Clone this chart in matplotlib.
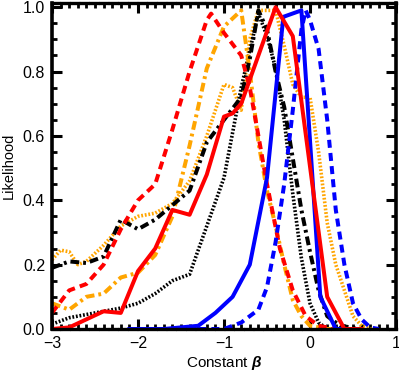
import matplotlib
matplotlib.use("Agg")
import matplotlib.pyplot as plt
from matplotlib.ticker import MultipleLocator

# ---- data ----
red_dash_x = [-3.0, -2.8, -2.6, -2.4, -2.2, -2.0, -1.8, -1.6, -1.4, -1.2, -1.15, -1.0, -0.8, -0.7, -0.6, -0.5, -0.35, -0.2, -0.05, 0.1, 0.3, 0.6]
red_dash_y = [0.05, 0.12, 0.14, 0.20, 0.31, 0.40, 0.45, 0.62, 0.80, 0.96, 0.98, 0.92, 0.85, 0.75, 0.60, 0.45, 0.25, 0.12, 0.04, 0.01, 0.0, 0.0]

orange_dd_x = [-3.0, -2.8, -2.6, -2.4, -2.2, -2.0, -1.8, -1.6, -1.4, -1.2, -1.0, -0.8, -0.7, -0.6, -0.5, -0.4, -0.3, -0.2, -0.1, 0.0, 0.2, 0.6]
orange_dd_y = [0.08, 0.06, 0.10, 0.11, 0.16, 0.175, 0.23, 0.35, 0.57, 0.81, 0.94, 0.99, 0.80, 0.58, 0.43, 0.32, 0.20, 0.09, 0.04, 0.01, 0.0, 0.0]

orange_dot_x = [-3.0, -2.9, -2.8, -2.7, -2.6, -2.4, -2.2, -2.0, -1.8, -1.6, -1.4, -1.2, -1.0, -0.9, -0.8, -0.7, -0.6, -0.4, -0.3, -0.2, -0.1, 0.0, 0.1, 0.2, 0.3, 0.4, 0.5, 0.6, 0.7, 0.8]
orange_dot_y = [0.215, 0.245, 0.24, 0.20, 0.21, 0.26, 0.32, 0.35, 0.36, 0.39, 0.46, 0.60, 0.76, 0.75, 0.68, 0.90, 0.99, 0.99, 0.88, 0.76, 0.72, 0.72, 0.55, 0.33, 0.20, 0.12, 0.04, 0.01, 0.0, 0.0]

black_dd_x = [-3.0, -2.8, -2.6, -2.4, -2.2, -2.0, -1.8, -1.6, -1.4, -1.2, -1.0, -0.8, -0.7, -0.6, -0.5, -0.4, -0.3, -0.2, -0.1, 0.0, 0.1, 0.2, 0.35, 0.6]
black_dd_y = [0.19, 0.21, 0.205, 0.225, 0.34, 0.31, 0.34, 0.385, 0.43, 0.58, 0.65, 0.72, 0.84, 0.99, 0.93, 0.80, 0.69, 0.53, 0.37, 0.24, 0.12, 0.04, 0.01, 0.0]

black_dot_x = [-3.0, -2.8, -2.6, -2.4, -2.2, -2.0, -1.8, -1.6, -1.4, -1.2, -1.0, -0.8, -0.6, -0.5, -0.4, -0.3, -0.2, -0.1, 0.0, 0.1, 0.2, 0.4]
black_dot_y = [0.015, 0.035, 0.045, 0.055, 0.065, 0.08, 0.11, 0.15, 0.17, 0.32, 0.47, 0.75, 0.98, 0.91, 0.81, 0.65, 0.42, 0.22, 0.08, 0.02, 0.0, 0.0]

red_solid_x = [-3.0, -2.8, -2.6, -2.4, -2.2, -2.0, -1.8, -1.6, -1.4, -1.2, -1.0, -0.9, -0.8, -0.4, -0.2, 0.2, 0.4, 0.6]
red_solid_y = [0.0, 0.005, 0.03, 0.055, 0.05, 0.18, 0.25, 0.37, 0.355, 0.48, 0.66, 0.67, 0.70, 1.0, 0.91, 0.10, 0.0, 0.0]

blue_solid_x = [-2.1, -1.7, -1.3, -1.1, -0.9, -0.7, -0.5, -0.31, -0.1, 0.12, 0.3, 0.5]
blue_solid_y = [0.0, 0.0, 0.01, 0.05, 0.10, 0.20, 0.47, 0.97, 0.99, 0.10, 0.0, 0.0]

blue_dash_x = [-1.3, -1.0, -0.8, -0.6, -0.5, -0.4, -0.3, -0.2, -0.1, -0.05, 0.0, 0.1, 0.2, 0.3, 0.4, 0.5, 0.6, 0.7, 0.8]
blue_dash_y = [0.0, 0.0, 0.02, 0.06, 0.13, 0.27, 0.45, 0.68, 0.93, 0.99, 0.96, 0.87, 0.65, 0.37, 0.20, 0.08, 0.03, 0.005, 0.0]

x_ticks = [-3, -2, -1, 0, 1]
x_labels = ["\u22123", "\u22122", "\u22121", "0", "1"]
y_ticks = [0.0, 0.2, 0.4, 0.6, 0.8, 1.0]
y_labels = ["0.0", "0.2", "0.4", "0.6", "0.8", "1.0"]

plt.rcParams['font.family'] = ['Liberation Sans', 'DejaVu Sans']
plt.rcParams['mathtext.fontset'] = 'custom'
plt.rcParams['mathtext.bf'] = 'Liberation Sans:bold:italic'

fig = plt.figure(figsize=(3.99, 3.71), dpi=100)
ax = fig.add_axes([52/399, 1 - 329/371, 344/399, 326/371])

px = 0.72  # one pixel in points
lw = 4 * px
orange = '#FFA500'

dot_lw = 3.6 * px
ax.plot(orange_dot_x, orange_dot_y, color=orange, lw=dot_lw, linestyle=(0, (0.5, 0.5)), dash_capstyle='butt')
ax.plot(black_dot_x, black_dot_y, color='black', lw=dot_lw, linestyle=(0, (0.5, 0.5)), dash_capstyle='butt')
ax.plot(orange_dd_x, orange_dd_y, color=orange, lw=lw, linestyle=(0, (2.2, 1.0, 0.7, 1.0)), dash_capstyle='butt')
ax.plot(black_dd_x, black_dd_y, color='black', lw=lw, linestyle=(0, (2.2, 1.0, 0.7, 1.0)), dash_capstyle='butt')
ax.plot(red_dash_x, red_dash_y, color='red', lw=lw, linestyle=(0, (2.0, 1.3)), dash_capstyle='butt')
ax.plot(blue_dash_x, blue_dash_y, color='blue', lw=lw, linestyle=(0, (2.0, 1.3)), dash_capstyle='butt')
ax.plot(blue_solid_x, blue_solid_y, color='blue', lw=lw)
ax.plot(red_solid_x, red_solid_y, color='red', lw=lw)

ax.set_xlim(-3, 1)
ax.set_ylim(0, 1.013)
ax.set_xticks(x_ticks)
ax.set_xticklabels(x_labels)
ax.set_yticks(y_ticks)
ax.set_yticklabels(y_labels)
ax.xaxis.set_minor_locator(MultipleLocator(0.1))
ax.yaxis.set_minor_locator(MultipleLocator(0.05))
ax.tick_params(which='both', direction='in', top=True, right=True, labelsize=11.5, pad=5)
ax.tick_params(which='major', length=7, width=2.2)
ax.tick_params(which='minor', length=3.5, width=2.0)

for s in ['left', 'right']:
    ax.spines[s].set_linewidth(2.6)
for s in ['top', 'bottom']:
    ax.spines[s].set_linewidth(2.4)
    ax.spines[s].set_linestyle((0, (2.0, 0.9)))

ax.set_xlabel("Constant $\\mathbf{\\beta}$", fontsize=11, labelpad=2)
ax.set_ylabel("Likelihood", fontsize=10.5, labelpad=5)

fig.savefig("out.png", dpi=100)
